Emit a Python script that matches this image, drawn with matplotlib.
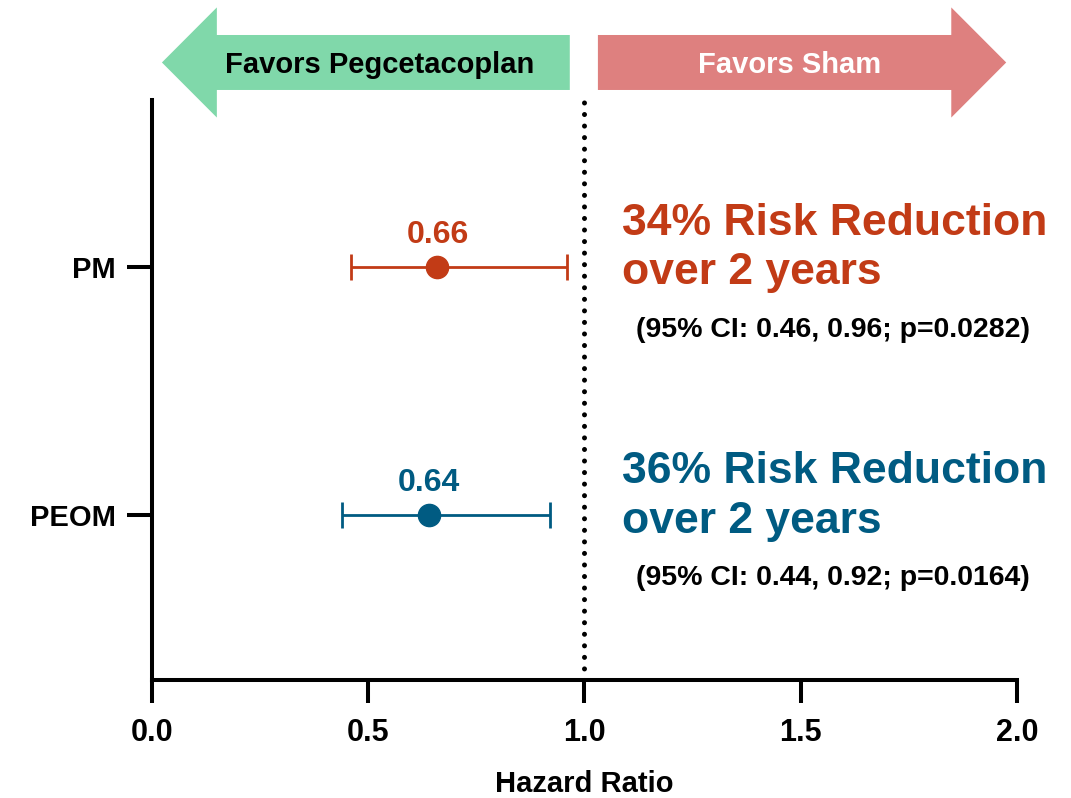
import matplotlib
matplotlib.use("Agg")
import matplotlib.pyplot as plt
from matplotlib.patches import FancyArrow
from matplotlib.transforms import blended_transform_factory

plt.rcParams['font.family'] = ['Liberation Sans', 'DejaVu Sans']
plt.rcParams['font.weight'] = 'bold'

# hazard ratios per endpoint
groups = ['PM', 'PEOM']
hr = [0.66, 0.64]
ci_low = [0.46, 0.44]
ci_high = [0.96, 0.92]
p_vals = ['0.0282', '0.0164']
row_pos = [2, 1]
colors = ['#c23b16', '#005b82']

GREEN = '#80d8aa'
PINK = '#de807f'

fig = plt.figure(figsize=(10.71, 7.98), dpi=100)
ax = fig.add_axes([0.1419, 0.1479, 0.8077, 0.7268])

for i, g in enumerate(groups):
    y = row_pos[i]
    ax.errorbar(hr[i], y, xerr=[[hr[i] - ci_low[i]], [ci_high[i] - hr[i]]],
                fmt='o', color=colors[i], ms=16, elinewidth=2,
                capsize=9.5, capthick=2)
    ax.annotate(f'{hr[i]:.2f}', (hr[i], y), xytext=(0, 17),
                textcoords='offset points', ha='center', va='baseline',
                fontsize=23, color=colors[i])
    pct = round((1 - hr[i]) * 100)
    ax.annotate(f'{pct}% Risk Reduction', (1.087, y), xytext=(0, 23),
                textcoords='offset points', ha='left', va='baseline',
                fontsize=32, color=colors[i])
    ax.annotate('over 2 years', (1.087, y), xytext=(0, -12.6),
                textcoords='offset points', ha='left', va='baseline',
                fontsize=32, color=colors[i])
    ax.annotate(f'(95% CI: {ci_low[i]:.2f}, {ci_high[i]:.2f}; p={p_vals[i]})',
                (1.119, y), xytext=(0, -50.4), textcoords='offset points',
                ha='left', va='baseline', fontsize=20.5, color='black')

# line of no effect
ax.axvline(1.0, color='black', lw=3.6, linestyle=(0, (0.01, 2.3)),
           dash_capstyle='round', zorder=0)

ax.set_xlim(0, 2.0)
ax.set_ylim(0.335, 2.673)
ax.set_xticks([0, 0.5, 1.0, 1.5, 2.0])
ax.set_xticklabels(['0.0', '0.5', '1.0', '1.5', '2.0'])
ax.set_yticks(row_pos)
ax.set_yticklabels(groups)
ax.tick_params(axis='x', length=16.5, width=2.9, pad=11, labelsize=22)
ax.tick_params(axis='y', length=18, width=2.9, pad=8, labelsize=21)
for side in ['top', 'right']:
    ax.spines[side].set_visible(False)
for side in ['left', 'bottom']:
    ax.spines[side].set_linewidth(2.9)
ax.set_xlabel('Hazard Ratio', fontsize=21, fontweight='bold', labelpad=16)

# direction banners above the plot
trans = blended_transform_factory(ax.transData, fig.transFigure)
ax.add_patch(FancyArrow(0.966, 0.9217, -0.943, 0, width=0.0689,
                        head_width=0.138, head_length=0.127,
                        length_includes_head=True, color=GREEN, lw=0,
                        transform=trans, clip_on=False))
ax.add_patch(FancyArrow(1.031, 0.9217, 0.944, 0, width=0.0689,
                        head_width=0.138, head_length=0.127,
                        length_includes_head=True, color=PINK, lw=0,
                        transform=trans, clip_on=False))
ax.text(0.526, 0.9217, 'Favors Pegcetacoplan', transform=trans,
        ha='center', va='center_baseline', fontsize=21, color='black')
ax.text(1.475, 0.9217, 'Favors Sham', transform=trans,
        ha='center', va='center_baseline', fontsize=21, color='white')

fig.savefig('out.png', dpi=100)
